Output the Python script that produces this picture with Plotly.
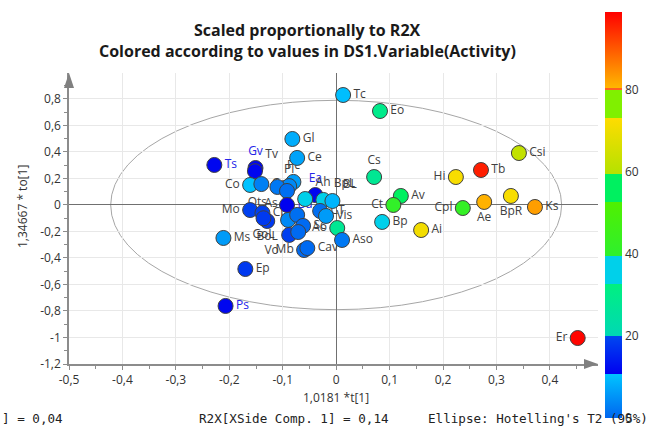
import plotly.graph_objects as go

# ---- data ----
names = ["Tc", "Eo", "Gl", "Ce", "Ts", "Gv", "Tv", "Pc", "Pl", "Co", "Gsr", "Ots", "",
         "Ea", "Ah", "BpL", "BL", "Bd", "Mo", "Cp", "BoL", "GoL", "As", "", "Sc", "Vo", "",
         "CT", "Vis", "Ao", "Aso", "Ms", "Mb", "Cav", "Ep", "Ps",
         "Cs", "Av", "Ct", "Bp", "Ai", "Hi", "Tb", "Csi", "Cpl", "Ae", "BpR", "Ks", "Er"]
t1 = [0.013, 0.082, -0.082, -0.073, -0.228, -0.151, -0.152, -0.080, -0.088, -0.161, -0.140, -0.110, -0.092,
      -0.039, -0.058, -0.024, -0.007, -0.092, -0.161, -0.138, -0.129, -0.136, -0.090, -0.073, -0.062, -0.088, -0.071,
      -0.030, -0.019, 0.002, 0.011, -0.211, -0.060, -0.054, -0.170, -0.207,
      0.071, 0.121, 0.107, 0.086, 0.159, 0.224, 0.271, 0.342, 0.237, 0.277, 0.327, 0.372, 0.452]
to1 = [0.830, 0.709, 0.498, 0.355, 0.302, 0.279, 0.255, 0.174, 0.143, 0.151, 0.158, 0.136, 0.106,
       0.075, 0.045, 0.038, 0.030, 0.000, -0.038, -0.060, -0.121, -0.100, -0.113, -0.075, -0.158, -0.226, -0.204,
       -0.045, -0.083, -0.174, -0.264, -0.249, -0.340, -0.325, -0.483, -0.762,
       0.211, 0.068, 0.000, -0.128, -0.189, 0.211, 0.264, 0.392, -0.023, 0.023, 0.068, -0.015, -1.004]
activity = [10, 30, 8, 7, 11.5, 11.5, 11.5, 6, 4, 10.5, 3, 2, 1,
            11.5, 36, 36, 9, 11, 19, 19, 18, 18, 4, 1, 0.5, 19, 0.5,
            1, 6, 28, 2, 6, 0.5, 0.5, 18, 11.5,
            28, 56, 41, 36, 71, 72, 96, 62, 42, 81, 72, 83, 98.5]
label_pos = ["middle right", "middle right", "middle right", "middle right", "middle right", "top center",
             "top right", "top center", "top center", "middle left", "middle right", "bottom left", "middle right",
             "top center", "top right", "top right", "top right", "middle right", "middle left", "middle right",
             "bottom center", "bottom center", "top left", "middle right", "middle right", "bottom left", "middle right",
             "middle right", "middle right", "middle left", "middle right", "middle right", "middle left",
             "middle right", "middle right", "middle right",
             "top center", "middle right", "middle left", "middle right", "middle right", "middle left",
             "middle right", "middle right", "middle left", "bottom center", "bottom center", "middle right",
             "middle left"]
blue_labels = ["Gv", "Ts", "Ea", "Bd", "Ps"]

x_ticks = [-0.5, -0.4, -0.3, -0.2, -0.1, 0, 0.1, 0.2, 0.3, 0.4]
x_ticktext = ["-0,5", "-0,4", "-0,3", "-0,2", "-0,1", "0", "0,1", "0,2", "0,3", "0,4"]
y_ticks = [-1.2, -1.0, -0.8, -0.6, -0.4, -0.2, 0, 0.2, 0.4, 0.6, 0.8]
y_ticktext = ["-1,2", "-1", "-0,8", "-0,6", "-0,4", "-0,2", "0", "0,2", "0,4", "0,6", "0,8"]
cbar_ticks = [0, 20, 40, 60, 80]

ellipse_a = 0.422   # half-width along t[1]
ellipse_b = 0.79    # half-height along to[1]

act_min, act_max = 0, 99

# ---- colour scale (segmented like the reference) ----
b = [v / act_max for v in [10.7, 20, 32.7, 39.5, 52.7, 59.5, 73.2, 80]]
colorscale = [
    [0, "#0066F0"], [b[0], "#00C4FF"],
    [b[0], "#0000F0"], [b[1], "#0048F0"],
    [b[1], "#00D8B4"], [b[2], "#00F080"],
    [b[2], "#00D0EA"], [b[3], "#00D0EA"],
    [b[3], "#2EF02E"], [b[4], "#50F000"],
    [b[4], "#00F060"], [b[5], "#00F060"],
    [b[5], "#B4E200"], [b[6], "#FFDC00"],
    [b[6], "#80F000"], [b[7], "#80F000"],
    [b[7], "#FF6020"], [b[7] + 0.004, "#FF6020"],
    [b[7] + 0.004, "#FFB800"], [1, "#FF0000"],
]

label_colors = ["#2424E8" if n in blue_labels else "#404040" for n in names]

fig = go.Figure()
# labels (drawn beneath markers)
fig.add_trace(go.Scatter(
    x=t1, y=to1, mode="markers+text", text=names, textposition=label_pos,
    textfont=dict(family="Open Sans", size=12, color=label_colors),
    marker=dict(size=15, color="rgba(0,0,0,0)", line=dict(width=0)),
    hoverinfo="skip", showlegend=False))
# markers
fig.add_trace(go.Scatter(
    x=t1, y=to1, mode="markers", text=names,
    marker=dict(size=15, color=activity, cmin=act_min, cmax=act_max, colorscale=colorscale,
                line=dict(color="#404040", width=1),
                colorbar=dict(x=(605 - 69) / 529, xanchor="left", xpad=0,
                              y=(364 - 215) / 291, yanchor="middle", ypad=0,
                              thickness=17, len=406, lenmode="pixels",
                              tickvals=cbar_ticks, ticks="", outlinewidth=0,
                              tickfont=dict(family="Open Sans", size=12, color="#333333"))),
    showlegend=False))

# Hotelling's T2 ellipse
fig.add_shape(type="circle", xref="x", yref="y", x0=-ellipse_a, x1=ellipse_a,
              y0=-ellipse_b, y1=ellipse_b, line=dict(color="#A6A6A6", width=1), layer="below")

# axis arrows
W, H = 529, 291
fig.add_shape(type="path", xref="paper", yref="paper",
              path=f"M 1 0 L {1 - 14 / W} {5 / H} L {1 - 14 / W} {-5 / H} Z",
              fillcolor="#808080", line=dict(width=0))
fig.add_shape(type="path", xref="paper", yref="paper",
              path=f"M 0 1 L {5 / W} {1 - 15 / H} L {-5 / W} {1 - 15 / H} Z",
              fillcolor="#808080", line=dict(width=0))

ann = []
title_font = dict(family="Open Sans", size=16, color="#1A1A1A")
ann.append(dict(text="<b>Scaled proportionally to R2X</b>", x=(307 - 69) / W, y=(364 - 30) / H,
                xref="paper", yref="paper", showarrow=False, font=title_font, xanchor="center", yanchor="middle"))
ann.append(dict(text="<b>Colored according to values in DS1.Variable(Activity)</b>", x=(307 - 69) / W,
                y=(364 - 51) / H, xref="paper", yref="paper", showarrow=False, font=title_font,
                xanchor="center", yanchor="middle"))
ann.append(dict(text="1,0181 *t[1]", x=(336 - 69) / W, y=(364 - 397) / H, xref="paper", yref="paper",
                showarrow=False, font=dict(family="Open Sans", size=12, color="#333333"),
                xanchor="center", yanchor="middle"))
ann.append(dict(text="1,34667 * to[1]", x=(22 - 69) / W, y=(364 - 207) / H, xref="paper", yref="paper",
                showarrow=False, textangle=-90, font=dict(family="Open Sans", size=12, color="#333333"),
                xanchor="center", yanchor="middle"))
mono = dict(family="DejaVu Sans Mono", size=12.6, color="#222222")
for txt, px in [("] = 0,04", 0), ("R2X[XSide Comp. 1] = 0,14", 197), ("Ellipse: Hotelling's T2 (95%)", 426)]:
    ann.append(dict(text=txt, x=(px - 69) / W, y=(364 - 418) / H, xref="paper", yref="paper",
                    showarrow=False, font=mono, xanchor="left", yanchor="middle"))

fig.update_layout(
    width=653, height=432, margin=dict(l=69, r=653 - 598, t=73, b=432 - 364),
    paper_bgcolor="white", plot_bgcolor="white", annotations=ann,
    xaxis=dict(range=[-0.5, 0.49], tickvals=x_ticks, ticktext=x_ticktext,
               showgrid=True, gridcolor="#E8E8E8", gridwidth=1,
               zeroline=True, zerolinecolor="#707070", zerolinewidth=1,
               showline=True, linecolor="#8C8C8C", linewidth=1.5,
               ticks="outside", ticklen=4, tickcolor="#8C8C8C",
               minor=dict(ticks="outside", ticklen=3, dtick=0.05, tickcolor="#8C8C8C", showgrid=False),
               tickfont=dict(family="Open Sans", size=12, color="#333333")),
    yaxis=dict(range=[-1.2, 0.996], tickvals=y_ticks, ticktext=y_ticktext,
               showgrid=True, gridcolor="#E8E8E8", gridwidth=1,
               zeroline=True, zerolinecolor="#707070", zerolinewidth=1,
               showline=True, linecolor="#8C8C8C", linewidth=1.5,
               ticks="outside", ticklen=4, tickcolor="#8C8C8C",
               minor=dict(ticks="outside", ticklen=3, dtick=0.1, tickcolor="#8C8C8C", showgrid=False),
               tickfont=dict(family="Open Sans", size=12, color="#333333")),
)

fig.write_html("out.html")
